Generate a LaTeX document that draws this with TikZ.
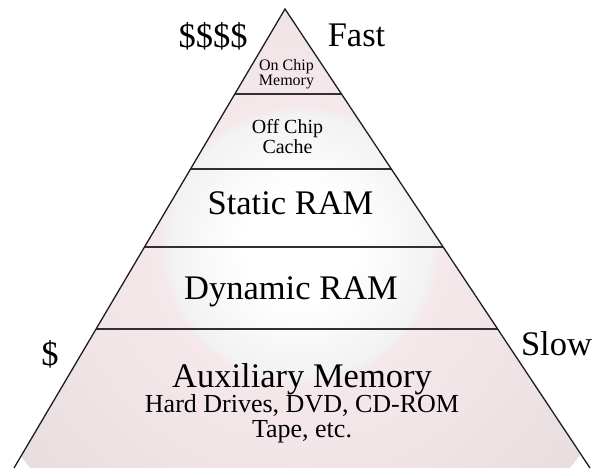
\documentclass[tikz,border=0pt]{standalone}
\usepackage{fontspec}
\setmainfont{Liberation Serif}
\usetikzlibrary{calc}
\definecolor{sgA}{HTML}{F8F8F8}
\definecolor{sgB}{HTML}{F2F2F2}
\definecolor{pkA}{HTML}{F5E8EA}
\definecolor{pkB}{HTML}{F2E5E8}
\definecolor{pkC}{HTML}{EDE2E4}
\definecolor{pkD}{HTML}{E8DEE0}
\definecolor{edge}{HTML}{1E1E1E}
\definecolor{sep}{HTML}{303030}
\pgfdeclareradialshading{pyrshade}{\pgfpoint{0bp}{0bp}}{color(0bp)=(white); color(4bp)=(white); color(7bp)=(sgA); color(9.4bp)=(sgB); color(10bp)=(pkA); color(15bp)=(pkB); color(19bp)=(pkC); color(25bp)=(pkD); color(50bp)=(pkD)}
\tikzset{
  lbl/.style={anchor=base, inner sep=0pt, text=black},
  huge/.style={lbl, font=\fontsize{34.5}{36}\selectfont},
  mid/.style={lbl, font=\fontsize{26}{28}\selectfont},
  sml/.style={lbl, font=\fontsize{20}{22}\selectfont},
  tiny/.style={lbl, font=\fontsize{16}{18}\selectfont},
  outline/.style={draw=edge, line width=1.3pt, line join=miter},
  sepline/.style={draw=sep, line width=1.5pt}
}
\begin{document}
\begin{tikzpicture}[x=1pt,y=-1pt]
\useasboundingbox (0,0) rectangle (593,468);
\coordinate (A) at (285,9);
\coordinate (L) at (14,468);
\coordinate (R) at (590,468);
\begin{scope}
  \clip (A) -- (L) -- (R) -- cycle;
  \shade[shading=pyrshade] (300,245) circle [radius=350pt];
\end{scope}
% separators
\coordinate (s1l) at ($(A)!0.1852!(L)$); \coordinate (s1r) at ($(A)!0.1852!(R)$);
\coordinate (s2l) at ($(A)!0.3486!(L)$); \coordinate (s2r) at ($(A)!0.3486!(R)$);
\coordinate (s3l) at ($(A)!0.5185!(L)$); \coordinate (s3r) at ($(A)!0.5185!(R)$);
\coordinate (s4l) at ($(A)!0.6972!(L)$); \coordinate (s4r) at ($(A)!0.6972!(R)$);
\draw[sepline] (s1l) -- (s1r);
\draw[sepline] (s2l) -- (s2r);
\draw[sepline] (s3l) -- (s3r);
\draw[sepline] (s4l) -- (s4r);
\draw[outline] (L) -- (A) -- (R);
% labels
\node[huge] (cost4) at (213,48) {\$\$\$\$};
\node[huge] (fast) at (356.5,47) {Fast};
\node[huge] (cost1) at (50,365) {\$};
\node[huge] (slow) at (556.5,355) {Slow};
\node[tiny] (onchip1) at (286.5,71) {On Chip};
\node[tiny] (onchip2) at (286.5,86) {Memory};
\node[sml] (off1) at (287.5,133) {Off Chip};
\node[sml] (off2) at (287.5,153) {Cache};
\node[huge] (sram) at (290.5,214) {Static RAM};
\node[huge] (dram) at (291,299) {Dynamic RAM};
\node[huge] (aux) at (302,387) {Auxiliary Memory};
\node[mid] (aux2) at (302,412) {Hard Drives, DVD, CD-ROM};
\node[mid] (aux3) at (302,437) {Tape, etc.};
\end{tikzpicture}
\end{document}
